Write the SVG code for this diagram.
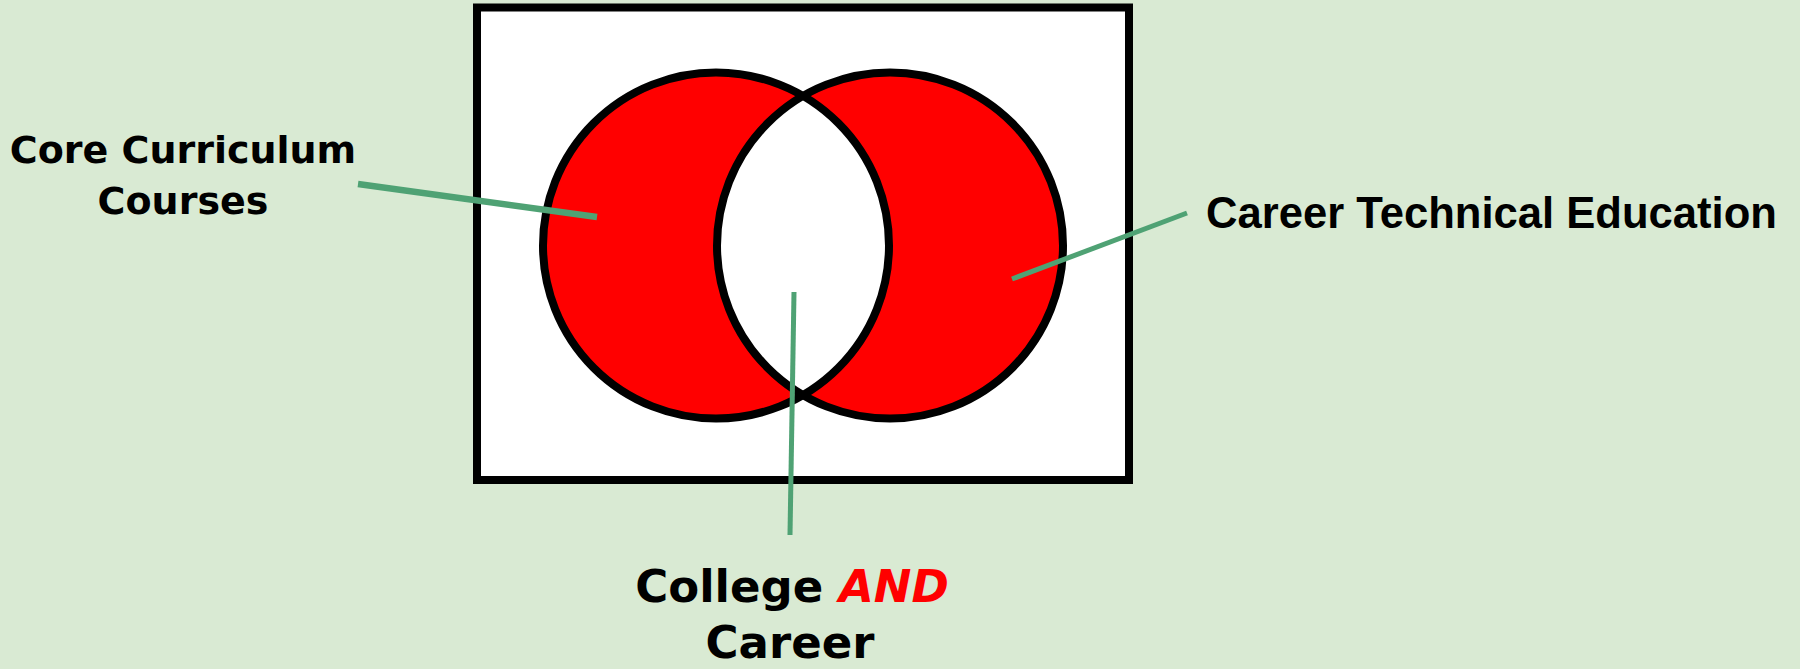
<svg xmlns="http://www.w3.org/2000/svg" width="1800" height="669" viewBox="0 0 1800 669">
<style>
.bg{fill:#d9ead3}
.frame{fill:#ffffff;stroke:#000000;stroke-width:8}
.red{fill:#ff0000;stroke:none}
.ring{fill:none;stroke:#000000;stroke-width:8}
.lead{stroke:#4fa274;stroke-width:6;stroke-linecap:butt;fill:none}
.lbl{font-family:"DejaVu Sans",Verdana,sans-serif;font-weight:bold;fill:#000000}
.lbl2{font-family:"Liberation Sans",Arial,sans-serif;font-weight:bold;fill:#000000}
</style>
<defs>
<clipPath id="clipA"><circle cx="716" cy="245.5" r="173"/></clipPath>
</defs>
<rect class="bg" x="0" y="0" width="1800" height="669"/>
<g id="venn">
<rect class="frame" x="477" y="7.5" width="652" height="472.5"/>
<circle class="red" cx="716" cy="245.5" r="173"/>
<circle class="red" cx="890" cy="245.5" r="173"/>
<circle cx="890" cy="245.5" r="173" fill="#ffffff" clip-path="url(#clipA)"/>
<circle class="ring" cx="716" cy="245.5" r="173"/>
<circle class="ring" cx="890" cy="245.5" r="173"/>
</g>
<g id="connectors">
<line class="lead" x1="358" y1="184" x2="597" y2="217" style="stroke-width:6.5"/>
<line class="lead" x1="1012" y1="279" x2="1187" y2="213" style="stroke-width:5"/>
<line class="lead" x1="794" y1="292" x2="790" y2="535" style="stroke-width:5"/>
</g>
<g id="label-core">
<text class="lbl" font-size="38" text-anchor="middle" x="183" y="162.5">Core Curriculum</text>
<text class="lbl" font-size="38" text-anchor="middle" x="183" y="213.5">Courses</text>
</g>
<g id="label-cte">
<text class="lbl2" font-size="43.5" x="1206" y="228" textLength="571" lengthAdjust="spacingAndGlyphs">Career Technical Education</text>
</g>
<g id="label-both">
<text class="lbl" font-size="45" text-anchor="middle" x="792" y="602">College <tspan fill="#ff0000" font-style="italic">AND</tspan></text>
<text class="lbl" font-size="45" text-anchor="middle" x="790" y="658">Career</text>
</g>
</svg>
